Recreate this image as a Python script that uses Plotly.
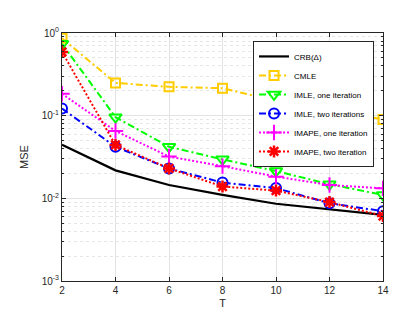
import plotly.graph_objects as go

T = [2, 4, 6, 8, 10, 12, 14]
crb = [0.0445, 0.0218, 0.0145, 0.0110, 0.0086, 0.0074, 0.0063]
cmle = [0.865, 0.249, 0.223, 0.215, 0.150, 0.120, 0.090]
imle_one = [0.74, 0.096, 0.042, 0.0296, 0.0214, 0.0148, 0.0110]
imle_two = [0.122, 0.042, 0.0230, 0.0155, 0.0133, 0.0087, 0.0070]
imape_one = [0.184, 0.0653, 0.032, 0.0245, 0.0183, 0.0145, 0.0132]
imape_two = [0.59, 0.0442, 0.023, 0.0139, 0.0124, 0.0090, 0.0061]

names = ["CRB(\u0394)", "CMLE", "IMLE, one iteration", "IMLE, two iterations",
         "IMAPE, one iteration", "IMAPE, two iteration"]

ytick_vals = [1e-3, 1e-2, 1e-1, 1]
ytick_text = ["10<sup>-3</sup>", "10<sup>-2</sup>", "10<sup>-1</sup>", "10<sup>0</sup>"]
xtick_vals = [2, 4, 6, 8, 10, 12, 14]

minor_vals = [m * 10.0 ** e for e in (-3, -2, -1) for m in range(2, 10)]

DD = "7px,3px,2px,3px"

fig = go.Figure()
fig.add_trace(go.Scatter(x=T, y=crb, name=names[0], mode="lines",
                         line=dict(color="black", width=2.2)))
fig.add_trace(go.Scatter(x=T, y=cmle, name=names[1], mode="lines+markers",
                         line=dict(color="#FFCC00", width=2, dash=DD),
                         marker=dict(symbol="square-open", size=9, color="#FFCC00",
                                     line=dict(width=2, color="#FFCC00"))))
fig.add_trace(go.Scatter(x=T, y=imle_one, name=names[2], mode="lines+markers",
                         line=dict(color="#00FF00", width=2, dash=DD),
                         marker=dict(symbol="triangle-down-open", size=11, color="#00FF00",
                                     line=dict(width=2, color="#00FF00"))))
fig.add_trace(go.Scatter(x=T, y=imle_two, name=names[3], mode="lines+markers",
                         line=dict(color="#0000FF", width=2, dash=DD),
                         marker=dict(symbol="circle-open", size=10, color="#0000FF",
                                     line=dict(width=2, color="#0000FF"))))
fig.add_trace(go.Scatter(x=T, y=imape_one, name=names[4], mode="lines+markers",
                         line=dict(color="#FF00FF", width=2, dash="2px,2px"),
                         marker=dict(symbol="cross-thin-open", size=11, color="#FF00FF",
                                     line=dict(width=2, color="#FF00FF"))))
fig.add_trace(go.Scatter(x=T, y=imape_two, name=names[5], mode="lines+markers",
                         line=dict(color="#FF0000", width=2, dash="2px,2px"),
                         marker=dict(symbol="asterisk-open", size=10, color="#FF0000",
                                     line=dict(width=2.5, color="#FF0000"))))

axis_common = dict(
    showline=True, linecolor="#262626", linewidth=1, mirror="ticks",
    ticks="inside", ticklen=4, tickcolor="#262626",
    gridcolor="#E3E3E3", gridwidth=1, zeroline=False,
    tickfont=dict(family="Liberation Sans, Arial, sans-serif", size=10, color="#262626"),
)

fig.update_xaxes(range=[2, 14], tickmode="array", tickvals=xtick_vals,
                 title=dict(text="T", font=dict(family="Liberation Sans, Arial", size=11, color="#262626"),
                            standoff=4),
                 **axis_common)
fig.update_yaxes(type="log", range=[-3, 0], tickmode="array", tickvals=ytick_vals,
                 ticktext=ytick_text,
                 title=dict(text="MSE", font=dict(family="Liberation Sans, Arial", size=11, color="#262626"),
                            standoff=10),
                 minor=dict(tickmode="array", tickvals=minor_vals, ticks="inside", ticklen=2,
                            tickcolor="#262626", showgrid=True, gridcolor="#E6E6E6",
                            griddash="dot", gridwidth=1),
                 **axis_common)

fig.update_layout(
    width=415, height=312,
    margin=dict(l=54, r=40, t=25, b=34),
    plot_bgcolor="white", paper_bgcolor="white",
    font=dict(family="Liberation Sans, Arial, sans-serif", size=9, color="#262626"),
    legend=dict(x=0.972, y=0.968, xanchor="right", yanchor="top",
                bgcolor="white", bordercolor="#262626", borderwidth=1,
                font=dict(size=8, color="#000000"), tracegroupgap=0),
    showlegend=True,
)

fig.write_html("out.html")
